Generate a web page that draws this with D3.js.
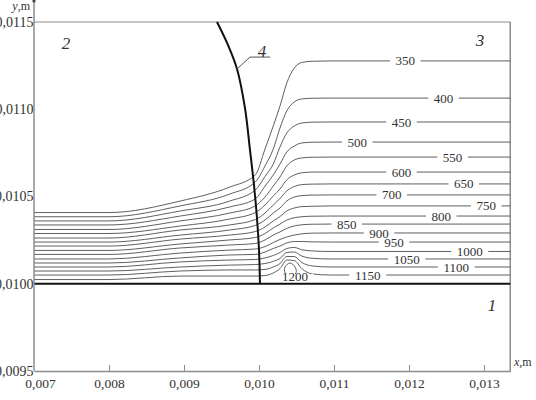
<!DOCTYPE html>
<meta charset="utf-8">
<head>
  <title>Isotherms</title>
  <style>
    body { margin: 0; background: #fff; }
    svg text { font-family: "Liberation Serif", "Times New Roman", serif; fill: #333; }
    .contour { fill: none; stroke: #4d4d4d; stroke-width: 0.9px; }
    .frame { stroke: #8c8c8c; stroke-width: 1.2px; fill: none; }
  </style>
  <script src="https://d3js.org/d3.v7.min.js"></script>
</head>
<body>
<svg id="chart" width="536" height="400"></svg>
<script>
// x grid (m) shared by all isotherms
var xGrid = [0.00700, 0.00800, 0.00895, 0.00961, 0.00995, 0.01008, 0.01019,
             0.01028, 0.01037, 0.01047, 0.01057, 0.01071, 0.01095, 0.01335];

var levels = [350, 400, 450, 500, 550, 600, 650, 700, 750, 800, 850, 900, 950, 1000, 1050, 1100, 1150];

// y (m) of each isotherm on xGrid
var isoY = [
  [0.010408, 0.010408, 0.010474, 0.010554, 0.010623, 0.010772, 0.010904, 0.011019, 0.011150, 0.011236, 0.011268, 0.011275, 0.011277, 0.011277],
  [0.010384, 0.010384, 0.010446, 0.010514, 0.010583, 0.010675, 0.010772, 0.010893, 0.010990, 0.011042, 0.011059, 0.011063, 0.011064, 0.011064],
  [0.010360, 0.010360, 0.010417, 0.010474, 0.010537, 0.010615, 0.010686, 0.010784, 0.010864, 0.010904, 0.010921, 0.010926, 0.010927, 0.010927],
  [0.010337, 0.010337, 0.010388, 0.010440, 0.010486, 0.010560, 0.010623, 0.010686, 0.010755, 0.010789, 0.010807, 0.010811, 0.010812, 0.010812],
  [0.010311, 0.010311, 0.010360, 0.010405, 0.010446, 0.010497, 0.010560, 0.010612, 0.010675, 0.010709, 0.010721, 0.010725, 0.010726, 0.010726],
  [0.010288, 0.010288, 0.010331, 0.010371, 0.010408, 0.010451, 0.010503, 0.010543, 0.010595, 0.010623, 0.010636, 0.010640, 0.010640, 0.010640],
  [0.010262, 0.010262, 0.010308, 0.010337, 0.010368, 0.010405, 0.010451, 0.010489, 0.010532, 0.010557, 0.010568, 0.010571, 0.010572, 0.010572],
  [0.010239, 0.010239, 0.010279, 0.010308, 0.010334, 0.010365, 0.010405, 0.010434, 0.010474, 0.010497, 0.010505, 0.010508, 0.010509, 0.010509],
  [0.010216, 0.010216, 0.010256, 0.010279, 0.010299, 0.010325, 0.010360, 0.010385, 0.010417, 0.010434, 0.010442, 0.010444, 0.010446, 0.010446],
  [0.010191, 0.010191, 0.010228, 0.010251, 0.010265, 0.010288, 0.010320, 0.010342, 0.010365, 0.010378, 0.010384, 0.010387, 0.010388, 0.010388],
  [0.010168, 0.010168, 0.010205, 0.010222, 0.010231, 0.010251, 0.010279, 0.010297, 0.010317, 0.010331, 0.010338, 0.010341, 0.010342, 0.010342],
  [0.010142, 0.010142, 0.010176, 0.010193, 0.010199, 0.010213, 0.010236, 0.010254, 0.010268, 0.010279, 0.010286, 0.010290, 0.010291, 0.010291],
  [0.010119, 0.010119, 0.010148, 0.010165, 0.010168, 0.010182, 0.010202, 0.010216, 0.010234, 0.010242, 0.010242, 0.010240, 0.010239, 0.010239],
  [0.010096, 0.010096, 0.010125, 0.010136, 0.010139, 0.010148, 0.010162, 0.010179, 0.010202, 0.010208, 0.010195, 0.010188, 0.010185, 0.010185],
  [0.010073, 0.010073, 0.010096, 0.010107, 0.010110, 0.010116, 0.010128, 0.010145, 0.010179, 0.010182, 0.010159, 0.010146, 0.010142, 0.010142],
  [0.010050, 0.010050, 0.010073, 0.010079, 0.010079, 0.010082, 0.010096, 0.010116, 0.010156, 0.010156, 0.010122, 0.010102, 0.010096, 0.010096],
  [0.010024, 0.010024, 0.010044, 0.010044, 0.010044, 0.010047, 0.010062, 0.010087, 0.010136, 0.010133, 0.010087, 0.010056, 0.010050, 0.010050]
];

// x (m) where the value label of each isotherm sits
var labelX = [0.01195, 0.01246, 0.01190, 0.01131, 0.01258, 0.01190, 0.01273, 0.01177, 0.01303,
              0.01243, 0.01117, 0.01160, 0.01180, 0.01281, 0.01197, 0.01263, 0.01145];

// small closed 1200 isotherm
var loop1200 = [[0.010413, 0.010119], [0.010480, 0.010096], [0.010493, 0.010062],
                [0.010413, 0.010039], [0.010347, 0.010062], [0.010347, 0.010096]];
var loopLabel = {text: "1200", x: 0.010480, y: 0.010042};

// boundary line 4
var boundary = [[0.009440, 0.011500], [0.009587, 0.011368], [0.009707, 0.011231], [0.009813, 0.011007],
                [0.009880, 0.010766], [0.009933, 0.010566], [0.009973, 0.010377], [0.010000, 0.010193],
                [0.010013, 0.010000]];
var leader4 = [[0.009707, 0.011231], [0.009880, 0.011299], [0.010147, 0.011299]];

var regions = [
  {t: "1", x: 0.013107, y: 0.009878},
  {t: "2", x: 0.007427, y: 0.011380},
  {t: "3", x: 0.012947, y: 0.011397},
  {t: "4", x: 0.010040, y: 0.011334}
];

var xTicks = [0.007, 0.008, 0.009, 0.010, 0.011, 0.012, 0.013];
var yTicks = [0.0095, 0.0100, 0.0105, 0.0110, 0.0115];

var svg = d3.select("#chart");
var x = d3.scaleLinear().domain([0.007, 0.01335]).range([34, 510.25]);
var y = d3.scaleLinear().domain([0.0095, 0.0115]).range([371, 22]);

var line = d3.line().x(function(d) { return x(d[0]); }).y(function(d) { return y(d[1]); })
  .curve(d3.curveMonotoneX);

// frame
svg.append("line").attr("class", "frame").attr("x1", x(0.007)).attr("x2", x(0.01335))
  .attr("y1", y(0.0115)).attr("y2", y(0.0115)).style("stroke-width", "1px");
svg.append("line").attr("class", "frame").attr("x1", x(0.01335)).attr("x2", x(0.01335))
  .attr("y1", y(0.0115)).attr("y2", y(0.0095)).style("stroke-width", "1.5px");

// isotherms
var iso = svg.append("g");
levels.forEach(function(lv, i) {
  var pts = xGrid.map(function(xv, j) { return [xv, isoY[i][j]]; });
  iso.append("path").attr("class", "contour").attr("d", line(pts));
});
iso.append("path").attr("class", "contour")
  .attr("d", d3.line().x(function(d) { return x(d[0]); }).y(function(d) { return y(d[1]); })
    .curve(d3.curveCardinalClosed)(loop1200));

// isotherm labels
var lab = svg.append("g").style("font-size", "13px");
function addLabel(text, xv, yv) {
  var g = lab.append("g").attr("transform", "translate(" + x(xv) + "," + y(yv) + ")");
  var w = text.length * 6.5 + 11;
  g.append("rect").attr("x", -w / 2).attr("y", -2.5).attr("width", w).attr("height", 5).attr("fill", "#fff");
  g.append("text").attr("text-anchor", "middle").attr("dy", "0.35em").text(text);
}
levels.forEach(function(lv, i) {
  addLabel(String(lv), labelX[i], isoY[i][isoY[i].length - 1]);
});
addLabel(loopLabel.text, loopLabel.x, loopLabel.y);

// thick lines: y = 0.0100 and boundary 4
svg.append("line").attr("x1", x(0.007)).attr("x2", x(0.01335)).attr("y1", y(0.0100)).attr("y2", y(0.0100))
  .attr("stroke", "#111").attr("stroke-width", 2);
svg.append("path").attr("fill", "none").attr("stroke", "#111").attr("stroke-width", 2)
  .attr("d", d3.line().x(function(d) { return x(d[0]); }).y(function(d) { return y(d[1]); })
    .curve(d3.curveCatmullRom)(boundary));
svg.append("path").attr("fill", "none").attr("stroke", "#555").attr("stroke-width", 1)
  .attr("d", d3.line().x(function(d) { return x(d[0]); }).y(function(d) { return y(d[1]); })(leader4));

// x axis
var xAxis = svg.append("g").attr("transform", "translate(0," + y(0.0095) + ")")
  .call(d3.axisBottom(x).tickValues(xTicks).tickSizeInner(-6).tickSizeOuter(0).tickPadding(7)
    .tickFormat(function(d) { return d3.format(".3f")(d).replace(".", ","); }));
xAxis.select(".domain").attr("stroke", "#8c8c8c").attr("stroke-width", 1.5);
xAxis.selectAll(".tick line").attr("stroke", "#8c8c8c");
xAxis.selectAll(".tick text").style("font-family", "Liberation Serif").style("font-size", "13.5px").attr("fill", "#333");
xAxis.selectAll(".tick").filter(function(d) { return d === 0.007; }).select("text").attr("dx", 6);
xAxis.selectAll(".tick").filter(function(d) { return d === 0.007; }).select("line").remove();

// y axis (the leading "0" runs off the left edge, as in the original figure)
var yAxis = svg.append("g").attr("transform", "translate(" + x(0.007) + ",0)")
  .call(d3.axisLeft(y).tickValues(yTicks).tickSize(0).tickPadding(0.5)
    .tickFormat(function(d) { return d3.format(".4f")(d).replace(".", ","); }));
yAxis.select(".domain").remove();
yAxis.selectAll(".tick text").style("font-family", "Liberation Serif").style("font-size", "14px").attr("fill", "#333");
svg.append("line").attr("x1", x(0.007)).attr("x2", x(0.007)).attr("y1", 0).attr("y2", y(0.0095))
  .attr("stroke", "#8c8c8c").attr("stroke-width", 1.5);
svg.append("circle").attr("cx", x(0.007)).attr("cy", 1).attr("r", 1.6).attr("fill", "#444");

// axis titles
var yt = svg.append("text").attr("x", 30).attr("y", 10).attr("text-anchor", "end").style("font-size", "12px");
yt.append("tspan").style("font-style", "italic").text("y");
yt.append("tspan").text(",m");
var xt = svg.append("text").attr("x", 514).attr("y", 366).style("font-size", "12px");
xt.append("tspan").style("font-style", "italic").text("x");
xt.append("tspan").text(",m");

// region numbers
svg.append("g").selectAll("text").data(regions).enter().append("text")
  .attr("x", function(d) { return x(d.x); })
  .attr("y", function(d) { return y(d.y); })
  .attr("dy", "0.35em").attr("text-anchor", "middle")
  .style("font-size", "17px").style("font-style", "italic")
  .text(function(d) { return d.t; });
</script>
</body>
</html>
